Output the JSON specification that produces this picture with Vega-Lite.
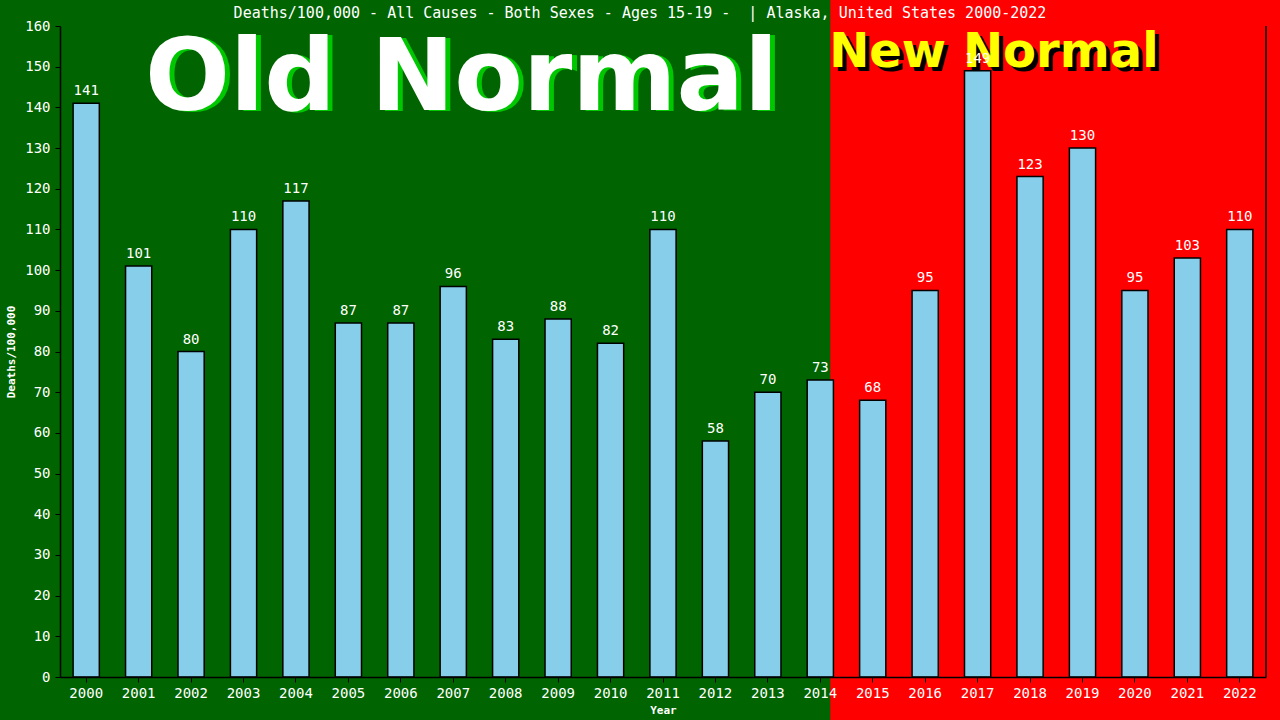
{
  "$schema": "https://vega.github.io/schema/vega-lite/v6.json",
  "width": 1206,
  "height": 651,
  "autosize": {"type": "none"},
  "padding": {"left": 60, "top": 26, "right": 14, "bottom": 43},
  "background": "#006400",
  "config": {
    "view": {"stroke": null},
    "axisY": {
      "grid": false, "zindex": 2,
      "domainColor": "black", "domainWidth": 1.5, "tickColor": "black", "tickSize": 5,
      "labelColor": "white", "labelFont": "DejaVu Sans Mono", "labelFontSize": 14, "labelPadding": 5, "labelOverlap": false,
      "titleColor": "white", "titleFont": "DejaVu Sans Mono", "titleFontSize": 11, "titleFontWeight": "bold", "titlePadding": 8
    }
  },
  "title": {
    "text": "Deaths/100,000 - All Causes - Both Sexes - Ages 15-19 -\u00a0 | Alaska, United States 2000-2022",
    "font": "DejaVu Sans Mono",
    "fontSize": 15,
    "fontWeight": "normal",
    "color": "white",
    "anchor": "middle",
    "offset": 0,
    "dy": 21,
    "dx": -23
  },
  "datasets": {
    "deaths": [
      {"year": "2000", "rate": 141},
      {"year": "2001", "rate": 101},
      {"year": "2002", "rate": 80},
      {"year": "2003", "rate": 110},
      {"year": "2004", "rate": 117},
      {"year": "2005", "rate": 87},
      {"year": "2006", "rate": 87},
      {"year": "2007", "rate": 96},
      {"year": "2008", "rate": 83},
      {"year": "2009", "rate": 88},
      {"year": "2010", "rate": 82},
      {"year": "2011", "rate": 110},
      {"year": "2012", "rate": 58},
      {"year": "2013", "rate": 70},
      {"year": "2014", "rate": 73},
      {"year": "2015", "rate": 68},
      {"year": "2016", "rate": 95},
      {"year": "2017", "rate": 149},
      {"year": "2018", "rate": 123},
      {"year": "2019", "rate": 130},
      {"year": "2020", "rate": 95},
      {"year": "2021", "rate": 103},
      {"year": "2022", "rate": 110}
    ],
    "era": [
      {"name": "New Normal", "from": 2014.19, "to": 2023.2, "low": -12, "high": 166.5}
    ],
    "banner": [
      {"label": "Old Normal", "pos": 2007.16, "level": 139.3},
      {"label": "New Normal", "pos": 2017.31, "level": 149.9}
    ]
  },
  "resolve": {"scale": {"x": "independent"}, "axis": {"x": "independent"}},
  "layer": [
    {
      "data": {"name": "era"},
      "mark": {"type": "rect", "color": "#ff0000", "clip": false},
      "encoding": {
        "x": {"field": "from", "type": "quantitative", "scale": {"domain": [1999.5, 2022.5], "nice": false, "zero": false}, "axis": null},
        "x2": {"field": "to"},
        "y": {
          "field": "low", "type": "quantitative",
          "scale": {"domain": [0, 160], "nice": false},
          "axis": {"title": "Deaths/100,000", "values": [0, 10, 20, 30, 40, 50, 60, 70, 80, 90, 100, 110, 120, 130, 140, 150, 160]}
        },
        "y2": {"field": "high"}
      }
    },
    {
      "data": {"name": "banner"},
      "transform": [{"filter": "datum.label == 'Old Normal'"}],
      "mark": {"type": "text", "font": "DejaVu Sans", "fontWeight": "bold", "fontSize": 100, "color": "#00c800", "baseline": "alphabetic", "align": "center", "dx": 5, "dy": 1, "clip": false},
      "encoding": {
        "x": {"field": "pos", "type": "quantitative", "scale": {"domain": [1999.5, 2022.5], "nice": false, "zero": false}, "axis": null},
        "y": {"field": "level", "type": "quantitative"},
        "text": {"field": "label"}
      }
    },
    {
      "data": {"name": "banner"},
      "transform": [{"filter": "datum.label == 'Old Normal'"}],
      "mark": {"type": "text", "font": "DejaVu Sans", "fontWeight": "bold", "fontSize": 100, "color": "white", "baseline": "alphabetic", "align": "center", "clip": false},
      "encoding": {
        "x": {"field": "pos", "type": "quantitative", "scale": {"domain": [1999.5, 2022.5], "nice": false, "zero": false}, "axis": null},
        "y": {"field": "level", "type": "quantitative"},
        "text": {"field": "label"}
      }
    },
    {
      "data": {"name": "banner"},
      "transform": [{"filter": "datum.label == 'New Normal'"}],
      "mark": {"type": "text", "font": "DejaVu Sans", "fontWeight": "bold", "fontSize": 48, "color": "black", "baseline": "alphabetic", "align": "center", "dx": 4, "dy": 4, "clip": false},
      "encoding": {
        "x": {"field": "pos", "type": "quantitative", "scale": {"domain": [1999.5, 2022.5], "nice": false, "zero": false}, "axis": null},
        "y": {"field": "level", "type": "quantitative"},
        "text": {"field": "label"}
      }
    },
    {
      "data": {"name": "banner"},
      "transform": [{"filter": "datum.label == 'New Normal'"}],
      "mark": {"type": "text", "font": "DejaVu Sans", "fontWeight": "bold", "fontSize": 48, "color": "#ffff00", "baseline": "alphabetic", "align": "center", "clip": false},
      "encoding": {
        "x": {"field": "pos", "type": "quantitative", "scale": {"domain": [1999.5, 2022.5], "nice": false, "zero": false}, "axis": null},
        "y": {"field": "level", "type": "quantitative"},
        "text": {"field": "label"}
      }
    },
    {
      "data": {"name": "deaths"},
      "mark": {"type": "bar", "fill": "#87ceeb", "stroke": "black", "strokeWidth": 1.5},
      "encoding": {
        "x": {
          "field": "year", "type": "ordinal",
          "scale": {"paddingInner": 0.5, "paddingOuter": 0.25},
          "axis": {
            "orient": "bottom", "title": "Year", "labelAngle": 0, "zindex": 2,
            "domainColor": "black", "domainWidth": 1.5, "tickColor": "black", "tickSize": 5,
            "labelColor": "white", "labelFont": "DejaVu Sans Mono", "labelFontSize": 14, "labelPadding": 4,
            "titleColor": "white", "titleFont": "DejaVu Sans Mono", "titleFontSize": 11, "titleFontWeight": "bold", "titlePadding": 4
          }
        },
        "y": {
          "field": "rate", "type": "quantitative",
          "scale": {"domain": [0, 160], "nice": false},
          "axis": {"title": "Deaths/100,000", "values": [0, 10, 20, 30, 40, 50, 60, 70, 80, 90, 100, 110, 120, 130, 140, 150, 160]}
        }
      }
    },
    {
      "data": {"name": "deaths"},
      "mark": {"type": "text", "color": "white", "font": "DejaVu Sans Mono", "fontSize": 14, "baseline": "bottom", "dy": -5},
      "encoding": {
        "x": {"field": "year", "type": "ordinal", "scale": {"paddingInner": 0.5, "paddingOuter": 0.25}, "axis": null},
        "y": {"field": "rate", "type": "quantitative"},
        "text": {"field": "rate"}
      }
    },
    {
      "data": {"name": "era"},
      "mark": {"type": "rule", "color": "black", "strokeWidth": 1.5},
      "encoding": {
        "x": {"datum": 2022.5, "type": "quantitative", "scale": {"domain": [1999.5, 2022.5], "nice": false, "zero": false}, "axis": null},
        "y": {"datum": 0, "type": "quantitative"},
        "y2": {"datum": 160}
      }
    }
  ]
}
